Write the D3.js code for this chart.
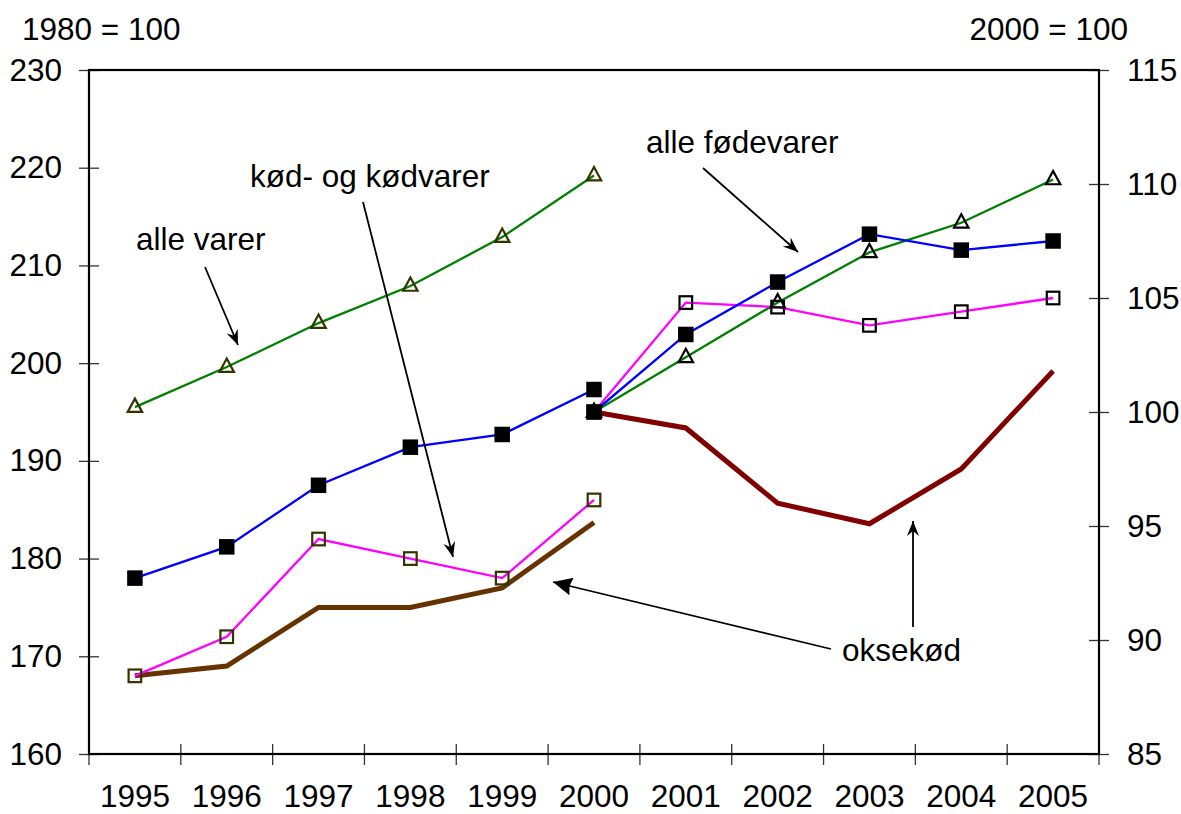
<!DOCTYPE html>
<html lang="da">
<head>
<meta charset="UTF-8">
<title>Prisindeks fødevarer</title>
<script src="https://d3js.org/d3.v7.min.js"></script>
<style>
    body{
        margin: 0;
        background: #fff;
    }
    svg text{
        font-family: "Liberation Sans", Arial, sans-serif;
        font-size: 31.5px;
        fill: #000;
    }
    .domain{ display: none; }
</style>
</head>
<body>
<svg></svg>
<script>
    const width = 1181;
    const height = 814;

    // years on the axis
    const years = ["1995","1996","1997","1998","1999","2000","2001","2002","2003","2004","2005"];
    const leftYears = ["1995","1996","1997","1998","1999","2000"];
    const rightYears = ["2000","2001","2002","2003","2004","2005"];

    // 1980 = 100 (left axis)
    const alleVarerL   = [195.5, 199.6, 204.1, 207.9, 212.9, 219.2];
    const foedevarerL  = [178.0, 181.2, 187.5, 191.4, 192.7, 197.3];
    const koedL        = [168.0, 172.0, 182.0, 180.0, 178.0, 186.0];
    const oksekoedL    = [168.0, 169.0, 175.0, 175.0, 177.0, 183.7];

    // 2000 = 100 (right axis)
    const alleVarerR   = [100, 102.4, 104.8, 107.0, 108.3, 110.2];
    const foedevarerR  = [100, 103.4, 105.7, 107.8, 107.1, 107.5];
    const koedR        = [100, 104.8, 104.6, 103.8, 104.4, 105.0];
    const oksekoedR    = [100, 99.3, 96.0, 95.1, 97.5, 101.8];

    const leftTicks = [160,170,180,190,200,210,220,230];
    const rightTicks = [85,90,95,100,105,110,115];

    const plot = {left: 89, right: 1099, top: 70, bottom: 754};

    const svg = d3.select("svg")
        .attr("width", width)
        .attr("height", height);

    const x = d3.scaleBand().domain(years).range([plot.left, plot.right]);
    const cx = d => x(d) + x.bandwidth()/2;
    const yL = d3.scaleLinear().domain([160,230]).range([plot.bottom, plot.top]);
    const yR = d3.scaleLinear().domain([85,115]).range([plot.bottom, plot.top]);

    // arrow heads
    const defs = svg.append("defs");
    defs.append("marker")
        .attr("id","stealth")
        .attr("markerUnits","userSpaceOnUse")
        .attr("viewBox","-16 -8 18 16")
        .attr("markerWidth",18).attr("markerHeight",16)
        .attr("refX",0).attr("refY",0)
        .attr("orient","auto")
        .append("path")
        .attr("d","M0,0 L-15,-6 L-10,0 L-15,6 Z")
        .attr("fill","#000");
    defs.append("marker")
        .attr("id","tri")
        .attr("markerUnits","userSpaceOnUse")
        .attr("viewBox","-20 -10 22 20")
        .attr("markerWidth",22).attr("markerHeight",20)
        .attr("refX",0).attr("refY",0)
        .attr("orient","auto")
        .append("path")
        .attr("d","M0,0 L-19,-9 L-17,0 L-19,9 Z")
        .attr("fill","#000");

    // left axis
    const gL = svg.append("g")
        .attr("transform",`translate(${plot.left},0)`)
        .call(d3.axisLeft(yL).tickValues(leftTicks).tickSize(10).tickPadding(17).tickFormat(d3.format("d")));
    gL.selectAll(".tick line").attr("x1",-10).attr("x2",10).attr("stroke","#333").attr("stroke-width",1.3);

    // right axis
    const gR = svg.append("g")
        .attr("transform",`translate(${plot.right},0)`)
        .call(d3.axisRight(yR).tickValues(rightTicks).tickSize(10).tickPadding(18).tickFormat(d3.format("d")));
    gR.selectAll(".tick line").attr("x1",-10).attr("x2",10).attr("stroke","#333").attr("stroke-width",1.3);

    // bottom axis: labels at band centres, ticks at band edges
    const gB = svg.append("g")
        .attr("transform",`translate(0,${plot.bottom})`)
        .call(d3.axisBottom(x).tickSize(0).tickPadding(31));
    svg.append("g").selectAll("line")
        .data(years.concat(["end"]))
        .join("line")
        .attr("x1",(d,i)=> i < years.length ? x(d) : plot.right)
        .attr("x2",(d,i)=> i < years.length ? x(d) : plot.right)
        .attr("y1",plot.bottom-10).attr("y2",plot.bottom+11)
        .attr("stroke","#333").attr("stroke-width",1.3);

    // frame
    svg.append("rect")
        .attr("x",plot.left).attr("y",plot.top)
        .attr("width",plot.right-plot.left).attr("height",plot.bottom-plot.top)
        .attr("fill","none").attr("stroke","#000").attr("stroke-width",2.2);

    // axis titles
    svg.append("text").attr("x",22).attr("y",40).text("1980 = 100");
    svg.append("text").attr("x",1128).attr("y",40).attr("text-anchor","end").text("2000 = 100");

    const lineL = d3.line().x(d=>cx(d[0])).y(d=>yL(d[1]));
    const lineR = d3.line().x(d=>cx(d[0])).y(d=>yR(d[1]));
    const zipL = vals => leftYears.map((yr,i)=>[yr, vals[i]]);
    const zipR = vals => rightYears.map((yr,i)=>[yr, vals[i]]);

    const series = [
        {data: zipL(oksekoedL), line: lineL, y: yL, color:"#663300", w:5, marker:null},
        {data: zipR(oksekoedR), line: lineR, y: yR, color:"#800000", w:5, marker:null},
        {data: zipL(alleVarerL), line: lineL, y: yL, color:"#008000", w:2.3, marker:"tri", mc:"#333300"},
        {data: zipL(koedL), line: lineL, y: yL, color:"#ff00ff", w:2.3, marker:"open", mc:"#333300"},
        {data: zipL(foedevarerL), line: lineL, y: yL, color:"#0000ff", w:2.3, marker:"filled"},
        {data: zipR(alleVarerR), line: lineR, y: yR, color:"#008000", w:2.3, marker:"tri", mc:"#000"},
        {data: zipR(koedR), line: lineR, y: yR, color:"#ff00ff", w:2.3, marker:"open", mc:"#000"},
        {data: zipR(foedevarerR), line: lineR, y: yR, color:"#0000ff", w:2.3, marker:"filled"}
    ];

    const marks = svg.append("g");
    series.forEach(s=>{
        marks.append("path")
            .datum(s.data)
            .attr("d", s.line)
            .attr("fill","none")
            .attr("stroke", s.color)
            .attr("stroke-width", s.w)
            .attr("stroke-linejoin","miter");
    });
    series.forEach(s=>{
        if(!s.marker) return;
        const g = marks.append("g");
        if(s.marker === "filled"){
            g.selectAll("rect").data(s.data).join("rect")
                .attr("x",d=>cx(d[0])-7).attr("y",d=>s.y(d[1])-7)
                .attr("width",14).attr("height",14)
                .attr("fill","#000").attr("stroke","#000").attr("stroke-width",1.5);
        } else if(s.marker === "open"){
            g.selectAll("rect").data(s.data).join("rect")
                .attr("x",d=>cx(d[0])-6.3).attr("y",d=>s.y(d[1])-6.3)
                .attr("width",12.6).attr("height",12.6)
                .attr("fill","none").attr("stroke",s.mc).attr("stroke-width",2.2);
        } else {
            g.selectAll("path").data(s.data).join("path")
                .attr("transform",d=>`translate(${cx(d[0])},${s.y(d[1])})`)
                .attr("d","M0,-8.5 L7.2,4.8 L-7.2,4.8 Z")
                .attr("fill","none").attr("stroke",s.mc).attr("stroke-width",2.2);
        }
    });

    // annotations
    const ann = svg.append("g");
    ann.append("text").attr("x",136).attr("y",250).text("alle varer");
    ann.append("text").attr("x",250).attr("y",187).text("kød- og kødvarer");
    ann.append("text").attr("x",646).attr("y",153).text("alle fødevarer");
    ann.append("text").attr("x",842).attr("y",661).text("oksekød");

    const arrows = [
        {x1:205, y1:267, x2:238, y2:345, m:"stealth"},
        {x1:363, y1:202, x2:453, y2:557, m:"stealth"},
        {x1:703, y1:168, x2:798, y2:252, m:"stealth"},
        {x1:831, y1:649, x2:553, y2:582, m:"tri"},
        {x1:913, y1:627, x2:913, y2:521, m:"stealth"}
    ];
    ann.selectAll("line").data(arrows).join("line")
        .attr("x1",d=>d.x1).attr("y1",d=>d.y1)
        .attr("x2",d=>d.x2).attr("y2",d=>d.y2)
        .attr("stroke","#000").attr("stroke-width",1.8)
        .attr("marker-end",d=>`url(#${d.m})`);
</script>
</body>
</html>
